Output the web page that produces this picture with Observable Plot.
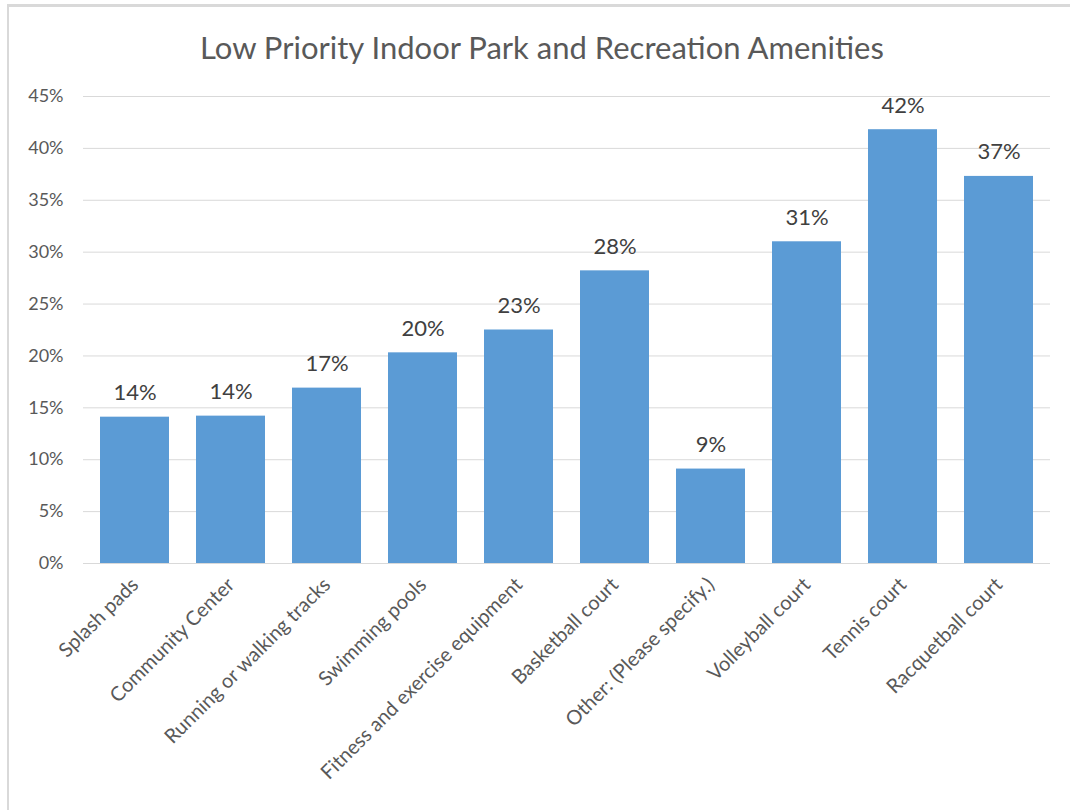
<!DOCTYPE html>
<html>
<head>
<meta charset="utf-8">
<script src="https://cdn.jsdelivr.net/npm/d3@7"></script>
<script src="https://cdn.jsdelivr.net/npm/@observablehq/plot@0.6"></script>
<style>
  html, body { margin: 0; padding: 0; background: #fff; }
  #wrap { position: relative; width: 1070px; height: 810px; overflow: hidden; font-family: Lato, "Open Sans", sans-serif; }
  #frame { position: absolute; left: 7px; top: 4px; width: 1080px; height: 820px; border-top: 3px solid #d9d9d9; border-left: 2px solid #d9d9d9; box-sizing: border-box; }
  #title { position: absolute; left: 14px; top: 0; width: 1056px; height: 80px; line-height: 94px; text-align: center; font-size: 31px; color: #595959; }
  #chart { position: absolute; left: 0; top: 80px; }
</style>
</head>
<body>
<div id="wrap">
  <div id="frame"></div>
  <div id="title">Low Priority Indoor Park and Recreation Amenities</div>
  <div id="chart"></div>
</div>
<script>
const categories = ["Splash pads", "Community Center", "Running or walking tracks", "Swimming pools", "Fitness and exercise equipment", "Basketball court", "Other: (Please specify.)", "Volleyball court", "Tennis court", "Racquetball court"];
const values = [14.1, 14.2, 16.9, 20.3, 22.5, 28.2, 9.1, 31.0, 41.8, 37.3];
const yTicks = [0, 5, 10, 15, 20, 25, 30, 35, 40, 45];

const data = categories.map((c, i) => ({category: c, value: values[i]}));

const chart = Plot.plot({
  width: 1070,
  height: 730,
  marginTop: 16,
  marginBottom: 247,
  marginLeft: 83,
  marginRight: 20,
  style: {fontFamily: "Lato, 'Open Sans', sans-serif", background: "transparent"},
  x: {domain: categories, paddingInner: 0.286, paddingOuter: 0.143, label: null},
  y: {domain: [0, 45], label: null},
  marks: [
    Plot.gridY(yTicks, {stroke: "#d9d9d9", strokeOpacity: 1, strokeWidth: 1}),
    Plot.barY(data, {x: "category", y: "value", fill: "#5b9bd5"}),
    Plot.text(data, {x: "category", y: "value", text: d => Math.round(d.value) + "%", dy: -24, fill: "#404040", fontSize: 22, lineAnchor: "middle"}),
    Plot.axisY(yTicks, {tickSize: 0, tickPadding: 20, tickFormat: d => d + "%", fontSize: 18, fill: "#595959"}),
    Plot.axisX({tickSize: 0, tickPadding: 18, tickRotate: -45, fontSize: 20, fill: "#595959"})
  ]
});
document.getElementById("chart").appendChild(chart);
</script>
</body>
</html>
